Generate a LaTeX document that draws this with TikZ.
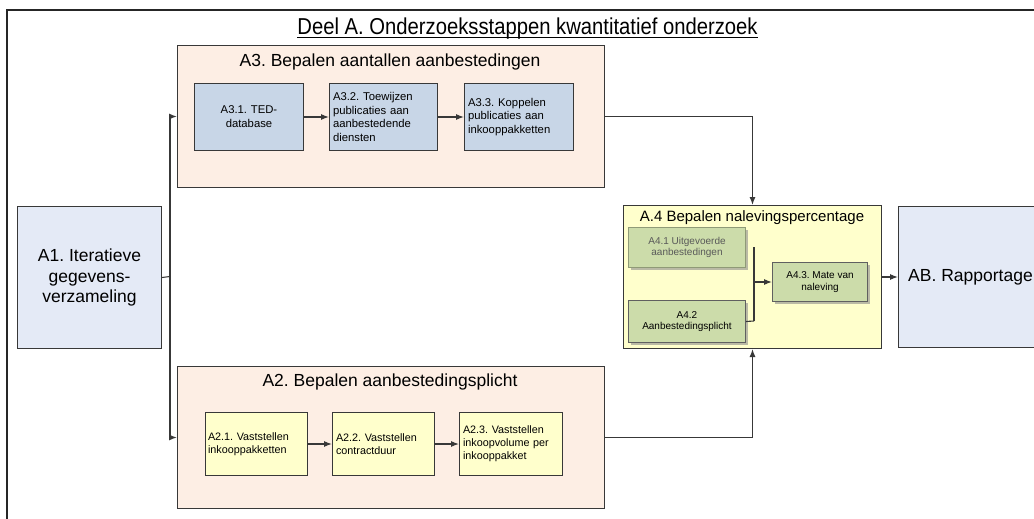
\documentclass[tikz,border=0pt]{standalone}
\usepackage{fontspec}
\setmainfont{Liberation Sans}
\newfontfamily\titlefont[FakeStretch=0.88]{Liberation Sans}
\usetikzlibrary{arrows.meta,shadows}
\definecolor{peach}{HTML}{FDEEE4}
\definecolor{steel}{HTML}{C8D6E7}
\definecolor{paleyellow}{HTML}{FFFFCC}
\definecolor{sage}{HTML}{CCDCAA}
\definecolor{paleblue}{HTML}{E4EAF6}
\definecolor{edgegray}{HTML}{383838}
\frenchspacing
\begin{document}
\begin{tikzpicture}[x=1pt,y=-1pt,
  frame/.style={draw=edgegray, line width=1pt, inner ysep=0pt, inner xsep=3.5pt, anchor=north west},
  group/.style={frame, fill=peach},
  bluebox/.style={frame, fill=steel, font=\fontsize{11.3}{13.8}\selectfont},
  yelbox/.style={frame, fill=paleyellow, font=\fontsize{10.8}{13}\selectfont},
  greenbox/.style={frame, fill=sage, draw=edgegray!80, font=\fontsize{10}{11.5}\selectfont, align=center,
    drop shadow={shadow xshift=2pt, shadow yshift=-2pt, fill=black!45, opacity=0.6}},
  bigbox/.style={frame, fill=paleblue, font=\fontsize{17.5}{20.5}\selectfont},
  grouptitle/.style={inner sep=0pt, font=\fontsize{17.5}{20}\selectfont},
  conn/.style={draw=edgegray, line width=1.1pt},
  arr/.style={conn, -{Latex[length=8pt,width=6pt]}}
]
\useasboundingbox (0,0) rectangle (1034,519);
\clip (0,0) rectangle (1034,519);

% outer frame
\draw[draw=black!85, line width=1.3pt] (7,530) -- (7,10) -- (1040,10);

% title
\node[inner sep=0pt, anchor=base, font=\titlefont\fontsize{23}{26}\selectfont] (title) at (527.5,35) {Deel A. Onderzoeksstappen kwantitatief onderzoek};
\draw[line width=1pt] ([yshift=-3pt]title.base west) -- ([yshift=-3pt]title.base east);

% A1
\node[bigbox, minimum width=144pt, minimum height=142pt, align=center] (a1) at (17,206)
  {A1. Iteratieve\\gegevens-\\verzameling};

% A3 group
\node[group, minimum width=427pt, minimum height=142pt] (a3) at (177,45) {};
\node[grouptitle] (a3t) at (390,62) {A3. Bepalen aantallen aanbestedingen};
\node[bluebox, minimum width=109pt, minimum height=67pt, text width=102pt, align=center] (a31) at (194,83) {A3.1. TED-\\database};
\node[bluebox, minimum width=108pt, minimum height=67pt, text width=101pt, align=left] (a32) at (329,83) {A3.2. Toewijzen\\publicaties aan\\aanbestedende\\diensten};
\node[bluebox, minimum width=109pt, minimum height=67pt, text width=102pt, align=left] (a33) at (464,83) {A3.3. Koppelen\\publicaties aan\\inkooppakketten};

% A2 group
\node[group, minimum width=427pt, minimum height=142pt] (a2) at (177,366) {};
\node[grouptitle] (a2t) at (390,382) {A2. Bepalen aanbestedingsplicht};
\node[yelbox, minimum width=102pt, minimum height=63pt, text width=97pt, align=left, inner xsep=2.5pt] (a21) at (205,412) {A2.1. Vaststellen\\inkooppakketten};
\node[yelbox, minimum width=102pt, minimum height=63pt, text width=95pt, align=left] (a22) at (332,412) {A2.2. Vaststellen\\contractduur};
\node[yelbox, minimum width=103pt, minimum height=63pt, text width=96pt, align=left] (a23) at (459,412) {A2.3. Vaststellen\\inkoopvolume per\\inkooppakket};

% A4 group
\node[frame, fill=paleyellow, minimum width=258pt, minimum height=143pt] (a4) at (623,205) {};
\node[inner sep=0pt, font=\fontsize{15}{17}\selectfont] (a4t) at (752,218) {A.4 Bepalen nalevingspercentage};
\node[greenbox, minimum width=117pt, minimum height=40pt, text=black!65, draw=sage!70!black] (a41) at (628,227) {A4.1 Uitgevoerde\\aanbestedingen};
\node[greenbox, minimum width=117pt, minimum height=42pt] (a42) at (628,300) {A4.2\\Aanbestedingsplicht};
\node[greenbox, minimum width=95pt, minimum height=39pt] (a43) at (772,262) {A4.3. Mate van\\naleving};

% AB
\node[bigbox, minimum width=144pt, minimum height=141pt, inner xsep=0pt] (ab) at (898,206) {AB. Rapportage};

% connectors
\coordinate (j) at (170,276.5);
\draw[conn] (a1.east) -- (j);
\draw[conn] (170,116) -- (170,437);
\draw[arr] (j |- a3.west) -- (a3.west);
\draw[arr] (j |- a2.west) -- (a2.west);

\draw[arr] (a31.east) -- (a32.west);
\draw[arr] (a32.east) -- (a33.west);
\draw[arr] (a21.east) -- (a22.west);
\draw[arr] (a22.east) -- (a23.west);

\draw[arr] (a3.east) -| (a4.north);
\draw[arr] (a2.east) -| (a4.south);

\coordinate (m1) at (754,247);
\coordinate (m2) at (754,321);
\draw[conn] (m1) -- (m2);
\draw[conn] (a42.east) -- (m2);
\draw[arr] (m1 |- a43.west) -- (a43.west);

\draw[arr] (a4.east) -- (ab.west);
\end{tikzpicture}
\end{document}
